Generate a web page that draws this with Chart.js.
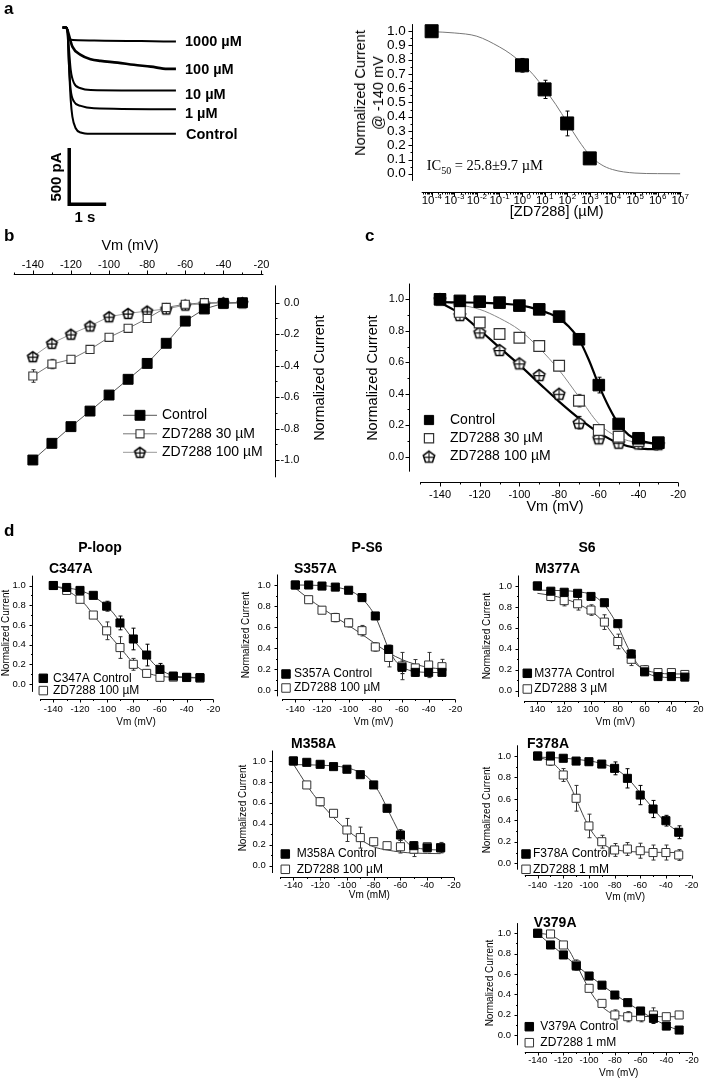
<!DOCTYPE html>
<html>
<head>
<meta charset="utf-8">
<script src="https://cdn.jsdelivr.net/npm/chart.js@4.4.1/dist/chart.umd.min.js"></script>
<style>
  html, body { margin: 0; padding: 0; background: #fff; }
  #fig { position: relative; width: 708px; height: 1078px; overflow: hidden; font-family: 'Liberation Sans', Arial, sans-serif; color: #000; }
  #fig canvas { position: absolute; left: 0; top: 0; }
  .lbl { position: absolute; white-space: nowrap; line-height: 1.2; }
</style>
</head>
<body>
<div id="fig"></div>
<script>
// ---------- a: current traces (time in s, current in pA) ----------
const trace1000uM = [[-0.13, 20], [-0.03, 20], [0, 0], [0.05, -85], [0.3, -92], [1, -96], [2, -100], [2.94, -104]];
const trace100uM = [[-0.13, 20], [-0.03, 20], [0, 0], [0.135, -149], [0.36, -222], [0.63, -261], [0.9, -276], [1.36, -291], [1.8, -311], [2.26, -327], [2.71, -347], [2.94, -347]];
const trace10uM = [[-0.13, 20], [-0.03, 20], [0, 0], [0.045, -178], [0.09, -356], [0.18, -474], [0.36, -519], [0.63, -534], [2.94, -540]];
const trace1uM = [[-0.13, 20], [-0.03, 20], [0, 0], [0.045, -326], [0.09, -534], [0.18, -638], [0.36, -676], [0.72, -697], [2.94, -706]];
const traceControl = [[-0.13, 20], [-0.03, 20], [0, 0], [0.045, -326], [0.09, -623], [0.135, -771], [0.225, -875], [0.36, -913], [0.63, -925], [2.94, -925]];
const scaleBar = [[0.05, -1050], [0.05, -1550], [1.05, -1550]];

// ---------- a: dose response ----------
const doseConc = [0.0001, 1, 10, 100, 1000];
const doseCurrent = [1.0, 0.761, 0.592, 0.353, 0.108];
const doseError = [0, 0.048, 0.064, 0.087, 0.012];
const doseFit = [[1e-4, 0.997], [1e-3, 0.988], [1e-2, 0.965], [1e-1, 0.89], [0.316, 0.84], [1, 0.775], [3.16, 0.695], [10, 0.595], [31.6, 0.485], [100, 0.36], [316, 0.235], [1000, 0.13], [3160, 0.065], [1e4, 0.03], [1e5, 0.005], [1e6, 0.001], [1e7, 0]];
const doseDecades = [-4, -3, -2, -1, 0, 1, 2, 3, 4, 5, 6, 7];
const doseYTicks = [0.0, 0.1, 0.2, 0.3, 0.4, 0.5, 0.6, 0.7, 0.8, 0.9, 1.0];
const doseYMinor = [0.05, 0.15, 0.25, 0.35, 0.45, 0.55, 0.65, 0.75, 0.85, 0.95];

// ---------- shared voltage steps / ticks ----------
const vmSteps = [-140, -130, -120, -110, -100, -90, -80, -70, -60, -50, -40, -30];
const vmTicks = [-140, -120, -100, -80, -60, -40, -20];
const vmMinor = [-150, -130, -110, -90, -70, -50, -30];
const unitTicks = [0.0, 0.2, 0.4, 0.6, 0.8, 1.0];
const unitMinor = [0.1, 0.3, 0.5, 0.7, 0.9];

// ---------- b: I-V ----------
const bControl = [-1.0, -0.894, -0.788, -0.689, -0.587, -0.487, -0.386, -0.258, -0.117, -0.04, -0.004, 0];
const bZd30 = [-0.466, -0.39, -0.36, -0.297, -0.22, -0.163, -0.10, -0.03, -0.01, 0, 0, 0];
const bZd30Err = [0.04, 0.03, 0.02, 0, 0, 0, 0, 0, 0, 0, 0, 0];
const bZd100 = [-0.343, -0.258, -0.2, -0.148, -0.089, -0.068, -0.053, -0.04, -0.015, -0.008, 0, 0];
const bYTicks = [-1.0, -0.8, -0.6, -0.4, -0.2, 0.0];
const bYMinor = [-0.9, -0.7, -0.5, -0.3, -0.1];

// ---------- c: activation ----------
const cControl = [1.0, 0.99, 0.985, 0.979, 0.96, 0.936, 0.89, 0.746, 0.455, 0.208, 0.117, 0.089];
const cControlErr = [0, 0, 0, 0, 0, 0, 0.01, 0.02, 0.05, 0.01, 0, 0];
const cZd30 = [1.0, 0.92, 0.852, 0.78, 0.756, 0.703, 0.578, 0.356, 0.17, 0.127, 0.10, 0.089];
const cZd30Err = [0, 0, 0, 0, 0, 0, 0.03, 0.04, 0.02, 0, 0, 0];
const cZd100 = [1.0, 0.90, 0.79, 0.678, 0.593, 0.519, 0.40, 0.216, 0.117, 0.089, 0.085, 0.08];
const cZd100Err = [0, 0.02, 0.02, 0.01, 0.01, 0.02, 0.02, 0.04, 0.02, 0.01, 0, 0];
const cFitControl = [[-140, 0.982], [-120, 0.978], [-100, 0.962], [-95, 0.95], [-90, 0.932], [-85, 0.91], [-80, 0.878], [-75, 0.825], [-70, 0.746], [-65, 0.614], [-60, 0.455], [-55, 0.318], [-50, 0.208], [-45, 0.138], [-40, 0.106], [-35, 0.089], [-30, 0.08]];
const cFitZd30 = [[-140, 0.985], [-130, 0.964], [-120, 0.936], [-110, 0.88], [-100, 0.805], [-90, 0.69], [-80, 0.55], [-70, 0.38], [-60, 0.21], [-50, 0.123], [-40, 0.089], [-30, 0.08]];
const cFitZd100 = [[-140, 0.98], [-130, 0.91], [-120, 0.805], [-110, 0.693], [-100, 0.583], [-90, 0.466], [-80, 0.35], [-70, 0.244], [-60, 0.153], [-50, 0.085], [-40, 0.053], [-30, 0.047]];

// ---------- d: mutants ----------
const c347aControl = [1.0, 0.98, 0.95, 0.9, 0.79, 0.62, 0.457, 0.294, 0.149, 0.081, 0.068, 0.065];
const c347aControlErr = [0, 0, 0, 0.02, 0.05, 0.07, 0.11, 0.11, 0.06, 0.02, 0.01, 0.01];
const c347aZd = [1.0, 0.95, 0.86, 0.70, 0.54, 0.37, 0.20, 0.108, 0.068, 0.07, 0.066, 0.06];
const c347aZdErr = [0, 0.02, 0.03, 0.03, 0.09, 0.11, 0.06, 0.02, 0.02, 0.01, 0.01, 0.01];
const c347aFitControl = [[-140, 0.99], [-130, 0.975], [-120, 0.95], [-110, 0.89], [-100, 0.79], [-95, 0.72], [-90, 0.63], [-85, 0.54], [-80, 0.45], [-75, 0.37], [-70, 0.29], [-65, 0.21], [-60, 0.15], [-55, 0.11], [-50, 0.085], [-40, 0.07], [-30, 0.065]];
const c347aFitZd = [[-140, 1.0], [-130, 0.95], [-120, 0.86], [-115, 0.79], [-110, 0.70], [-105, 0.62], [-100, 0.53], [-95, 0.45], [-90, 0.37], [-85, 0.29], [-80, 0.21], [-75, 0.155], [-70, 0.115], [-60, 0.08], [-50, 0.068], [-30, 0.062]];

const s357aControl = [1.0, 1.0, 0.99, 0.98, 0.95, 0.88, 0.705, 0.387, 0.216, 0.168, 0.168, 0.168];
const s357aControlErr = [0, 0, 0, 0, 0, 0, 0, 0.04, 0.06, 0.03, 0.03, 0.02];
const s357aZd = [1.0, 0.86, 0.76, 0.69, 0.64, 0.565, 0.41, 0.31, 0.228, 0.21, 0.238, 0.222];
const s357aZdErr = [0, 0.03, 0.03, 0.04, 0.04, 0.05, 0.04, 0.09, 0.13, 0.08, 0.12, 0.07];
const s357aFitControl = [[-140, 1.0], [-120, 0.995], [-110, 0.98], [-100, 0.95], [-95, 0.92], [-90, 0.87], [-85, 0.8], [-80, 0.7], [-75, 0.55], [-70, 0.39], [-65, 0.28], [-60, 0.22], [-55, 0.19], [-50, 0.175], [-40, 0.168], [-30, 0.165]];
const s357aFitZd = [[-140, 0.97], [-130, 0.87], [-120, 0.78], [-110, 0.695], [-100, 0.615], [-90, 0.53], [-80, 0.44], [-70, 0.355], [-60, 0.29], [-50, 0.245], [-40, 0.215], [-30, 0.2]];

const m377aSteps = [140, 130, 120, 110, 100, 90, 80, 70, 60, 50, 40, 30];
const m377aTicks = [140, 120, 100, 80, 60, 40, 20];
const m377aMinor = [150, 130, 110, 90, 70, 50, 30];
const m377aControl = [1.0, 0.95, 0.94, 0.93, 0.9, 0.84, 0.64, 0.35, 0.18, 0.135, 0.135, 0.13];
const m377aControlErr = [0, 0.02, 0.02, 0.02, 0.03, 0.03, 0.03, 0.04, 0.03, 0.02, 0.02, 0.02];
const m377aZd = [1.0, 0.9, 0.86, 0.83, 0.77, 0.655, 0.47, 0.30, 0.20, 0.173, 0.173, 0.155];
const m377aZdErr = [0, 0.04, 0.05, 0.06, 0.05, 0.07, 0.07, 0.06, 0.04, 0.02, 0.02, 0.02];
const m377aFitControl = [[140, 0.96], [120, 0.955], [110, 0.945], [100, 0.92], [95, 0.88], [90, 0.82], [85, 0.73], [80, 0.62], [75, 0.48], [70, 0.35], [65, 0.25], [60, 0.185], [55, 0.15], [50, 0.135], [40, 0.125], [30, 0.125]];
const m377aFitZd = [[140, 0.93], [130, 0.91], [120, 0.88], [110, 0.83], [100, 0.76], [95, 0.71], [90, 0.645], [85, 0.56], [80, 0.47], [75, 0.38], [70, 0.3], [65, 0.24], [60, 0.2], [50, 0.17], [40, 0.16], [30, 0.16]];

const m358aControl = [1.0, 0.987, 0.968, 0.946, 0.921, 0.869, 0.771, 0.548, 0.293, 0.191, 0.17, 0.17];
const m358aControlErr = [0, 0, 0, 0, 0, 0, 0.01, 0.03, 0.05, 0.03, 0.02, 0.02];
const m358aZd = [1.0, 0.771, 0.611, 0.50, 0.341, 0.268, 0.229, 0.191, 0.181, 0.157, 0.181, 0.172];
const m358aZdErr = [0, 0.01, 0.04, 0.03, 0.11, 0.1, 0.02, 0.02, 0.06, 0.07, 0.03, 0.05];
const m358aFitControl = [[-140, 0.965], [-120, 0.96], [-100, 0.935], [-90, 0.89], [-85, 0.85], [-80, 0.78], [-75, 0.68], [-70, 0.55], [-65, 0.42], [-60, 0.30], [-55, 0.22], [-50, 0.18], [-40, 0.155], [-30, 0.15]];
const m358aFitZd = [[-140, 0.97], [-135, 0.87], [-130, 0.77], [-125, 0.68], [-120, 0.6], [-115, 0.53], [-110, 0.46], [-100, 0.34], [-90, 0.25], [-80, 0.18], [-70, 0.15], [-60, 0.13], [-50, 0.12], [-30, 0.115]];

const f378aControl = [1.0, 1.0, 0.979, 0.953, 0.947, 0.925, 0.885, 0.792, 0.636, 0.506, 0.397, 0.289];
const f378aControlErr = [0, 0.01, 0.01, 0.02, 0.03, 0.03, 0.06, 0.09, 0.09, 0.08, 0.05, 0.06];
const f378aZd = [1.0, 0.953, 0.823, 0.606, 0.348, 0.201, 0.124, 0.133, 0.117, 0.10, 0.10, 0.077];
const f378aZdErr = [0, 0.04, 0.06, 0.12, 0.11, 0.06, 0.06, 0.06, 0.07, 0.07, 0.07, 0.05];
const f378aFitControl = [[-140, 0.99], [-120, 0.98], [-100, 0.955], [-90, 0.93], [-80, 0.885], [-70, 0.795], [-60, 0.655], [-50, 0.51], [-40, 0.38], [-30, 0.29]];
const f378aFitZd = [[-140, 0.99], [-130, 0.95], [-125, 0.9], [-120, 0.83], [-115, 0.73], [-110, 0.6], [-105, 0.46], [-100, 0.34], [-95, 0.25], [-90, 0.19], [-85, 0.15], [-80, 0.13], [-70, 0.11], [-30, 0.1]];

const v379aControl = [1.0, 0.885, 0.787, 0.678, 0.58, 0.49, 0.393, 0.318, 0.236, 0.164, 0.088, 0.049];
const v379aControlErr = [0, 0, 0, 0, 0, 0, 0, 0, 0.03, 0.05, 0.03, 0];
const v379aZd = [1.0, 0.993, 0.885, 0.688, 0.459, 0.311, 0.197, 0.18, 0.18, 0.197, 0.18, 0.197];
const v379aZdErr = [0, 0, 0.02, 0.05, 0.01, 0.02, 0.05, 0.05, 0.05, 0.07, 0.03, 0];
const v379aFitControl = [[-140, 1.0], [-130, 0.89], [-120, 0.79], [-110, 0.685], [-100, 0.585], [-90, 0.49], [-80, 0.4], [-70, 0.315], [-60, 0.235], [-50, 0.16], [-40, 0.095], [-30, 0.045]];
const v379aFitZd = [[-140, 1.0], [-130, 0.98], [-120, 0.9], [-115, 0.82], [-110, 0.7], [-105, 0.57], [-100, 0.45], [-95, 0.35], [-90, 0.28], [-85, 0.23], [-80, 0.2], [-70, 0.185], [-30, 0.18]];

// ================= helpers =================
const W = 708, H = 1078;
const FONT = "'Liberation Sans', Arial, sans-serif";
const fig = document.getElementById('fig');
Chart.defaults.font.family = FONT;
Chart.defaults.color = '#000';

// open pentagon with a cross, used as a point style image
function pentagon(size, color) {
  const c = document.createElement('canvas');
  c.width = c.height = size + 4;
  const g = c.getContext('2d');
  const cx = c.width / 2, cy = c.height / 2 + 0.6, r = size / 2;
  g.beginPath();
  for (let i = 0; i < 5; i++) {
    const a = -Math.PI / 2 + i * 2 * Math.PI / 5;
    g.lineTo(cx + r * Math.cos(a), cy + r * Math.sin(a));
  }
  g.closePath();
  g.fillStyle = '#fff'; g.fill();
  g.strokeStyle = color; g.lineWidth = 1.6; g.stroke();
  g.beginPath();
  g.moveTo(cx, cy - r); g.lineTo(cx, cy + r * 0.8);
  g.moveTo(cx - r * 0.85, cy); g.lineTo(cx + r * 0.85, cy);
  g.lineWidth = 1.1; g.stroke();
  return c;
}

function scaleCfg({ type = 'linear', position, min, max, major, minor = [], fmt, size, pad, reverse = false, box, align = 'near', hide = false }) {
  const all = [...major, ...minor].sort((a, b) => a - b);
  const cfg = {
    type, position, min, max, reverse,
    grid: { display: false, drawTicks: false },
    border: { display: false },
    afterBuildTicks: s => { s.ticks = all.map(v => ({ value: v })); },
    ticks: {
      autoSkip: false, maxRotation: 0, minRotation: 0, padding: pad, crossAlign: align,
      font: { size }, color: hide ? 'rgba(0,0,0,0)' : '#000',
      callback: v => major.includes(v) ? fmt(v) : ''
    }
  };
  Object.defineProperty(cfg, 'boxSize', { value: box, enumerable: false });
  return cfg;
}

// Origin style axes: detached lines with major / minor ticks taken from the scales
function axesPlugin(axes, len = 4, minorLen = 2) {
  return {
    id: 'originAxes',
    afterDraw(chart) {
      const { ctx, chartArea: a } = chart;
      ctx.save();
      ctx.strokeStyle = '#000';
      ctx.lineWidth = 1;
      ctx.beginPath();
      for (const id in axes) {
        const s = chart.scales[id], gap = axes[id];
        if (s.isHorizontal()) {
          const top = s.position === 'top';
          const y = Math.round(top ? a.top - gap : a.bottom + gap) + 0.5, dir = top ? -1 : 1;
          ctx.moveTo(a.left, y); ctx.lineTo(a.right, y);
          s.ticks.forEach(t => {
            const x = Math.round(s.getPixelForValue(t.value)) + 0.5;
            ctx.moveTo(x, y); ctx.lineTo(x, y + dir * (t.label ? len : minorLen));
          });
        } else {
          const right = s.position === 'right';
          const x = Math.round(right ? a.right + gap : a.left - gap) + 0.5, dir = right ? 1 : -1;
          ctx.moveTo(x, a.top); ctx.lineTo(x, a.bottom);
          s.ticks.forEach(t => {
            const y = Math.round(s.getPixelForValue(t.value)) + 0.5;
            ctx.moveTo(x, y); ctx.lineTo(x + dir * (t.label ? len : minorLen), y);
          });
        }
      }
      ctx.stroke();
      ctx.restore();
    }
  };
}

// "10" with a raised exponent under every labelled tick of a log scale
function powerLabels(id, baseline, size, supSize) {
  return {
    id: 'powerLabels',
    afterDraw(chart) {
      const s = chart.scales[id], ctx = chart.ctx;
      ctx.save();
      ctx.fillStyle = '#000';
      ctx.textBaseline = 'alphabetic';
      s.ticks.forEach(t => {
        if (!t.label) return;
        const e = String(Math.round(Math.log10(t.value)));
        ctx.font = `${size}px ${FONT}`;
        const w1 = ctx.measureText('10').width;
        ctx.font = `${supSize}px ${FONT}`;
        const w2 = ctx.measureText(e).width;
        const x0 = s.getPixelForValue(t.value) - (w1 + w2) / 2;
        ctx.font = `${size}px ${FONT}`;
        ctx.fillText('10', x0, baseline);
        ctx.font = `${supSize}px ${FONT}`;
        ctx.fillText(e, x0 + w1 + 0.3, baseline - size * 0.42);
      });
      ctx.restore();
    }
  };
}

// error bars from dataset.errors, drawn under the markers
const errorBars = {
  id: 'errorBars',
  beforeDatasetsDraw(chart) {
    const ctx = chart.ctx, xs = chart.scales.x, ys = chart.scales.y;
    chart.data.datasets.forEach(ds => {
      if (!ds.errors) return;
      ctx.save();
      ctx.strokeStyle = ds.errorColor || '#000';
      ctx.lineWidth = 1;
      ctx.beginPath();
      ds.data.forEach((p, i) => {
        const e = ds.errors[i];
        if (!e) return;
        const x = Math.round(xs.getPixelForValue(p.x)) + 0.5;
        const y1 = ys.getPixelForValue(p.y + e), y2 = ys.getPixelForValue(p.y - e);
        ctx.moveTo(x, y1); ctx.lineTo(x, y2);
        ctx.moveTo(x - 2, y1); ctx.lineTo(x + 2, y1);
        ctx.moveTo(x - 2, y2); ctx.lineTo(x + 2, y2);
      });
      ctx.stroke();
      ctx.restore();
    });
  }
};

function legendPlugin(o) {
  return {
    id: 'inlineLegend',
    afterDraw(chart) {
      const ctx = chart.ctx;
      ctx.save();
      ctx.font = `${o.size}px ${FONT}`;
      ctx.textBaseline = 'middle';
      o.items.forEach((di, i) => {
        const ds = chart.data.datasets[di];
        const y = o.y + i * o.dy;
        if (o.line) {
          ctx.strokeStyle = ds.borderColor; ctx.lineWidth = 1;
          ctx.beginPath(); ctx.moveTo(o.x - o.line, y); ctx.lineTo(o.x + o.line, y); ctx.stroke();
        }
        ctx.fillStyle = ds.pointBackgroundColor;
        ctx.strokeStyle = ds.pointBorderColor;
        ctx.lineWidth = ds.pointBorderWidth;
        Chart.helpers.drawPoint(ctx, { pointStyle: ds.pointStyle, radius: o.r || ds.pointRadius, rotation: 0, borderWidth: ds.pointBorderWidth }, o.x, y);
        ctx.fillStyle = '#000';
        ctx.fillText(ds.label, o.tx, y);
      });
      ctx.restore();
    }
  };
}

// every chart covers the whole page; the plot area is set in page pixels and
// each visible scale gets a fixed-size box cut out of the layout padding
function makeChart(area, scales, datasets, plugins = []) {
  const cv = document.createElement('canvas');
  cv.width = W; cv.height = H;
  fig.appendChild(cv);
  const [L, T, R, B] = area;
  const pad = { left: L, top: T, right: W - R, bottom: H - B };
  for (const id in scales) {
    const s = scales[id];
    if (s.display === false) continue;
    const side = s.position;
    const size = Math.floor(Math.min(pad[side], s.boxSize || (side === 'left' || side === 'right' ? 60 : 40)));
    pad[side] -= size;
    s.afterFit = sc => { if (sc.isHorizontal()) sc.height = size; else sc.width = size; };
  }
  return new Chart(cv, {
    type: 'scatter',
    data: { datasets },
    options: {
      responsive: false, animation: false, devicePixelRatio: 1, events: [],
      layout: { padding: pad },
      plugins: { legend: { display: false }, tooltip: { enabled: false } },
      scales
    },
    plugins: [errorBars, ...plugins]
  });
}

const FILLED = r => ({ shape: 'rect', r, fill: '#000', stroke: '#000', bw: 1 });
const OPEN = (r, c = '#333', bw = 1) => ({ shape: 'rect', r, fill: '#fff', stroke: c, bw });
const PENTA = (size, c = '#000') => ({ shape: pentagon(size, c), r: size / 2, fill: '#fff', stroke: c, bw: 1 });

function markerSet(label, xs, ys, st, errors, lineColor) {
  return {
    label, data: xs.map((x, i) => ({ x, y: ys[i] })), errors, errorColor: st.stroke,
    showLine: !!lineColor, clip: false,
    borderColor: lineColor || st.stroke, borderWidth: 1,
    pointStyle: st.shape, pointRadius: st.r,
    pointBackgroundColor: st.fill, pointBorderColor: st.stroke, pointBorderWidth: st.bw,
    backgroundColor: st.fill
  };
}
function curve(arr, color, width) {
  return {
    data: arr.map(([x, y]) => ({ x, y })), showLine: true, clip: false,
    pointRadius: 0, borderColor: color, borderWidth: width,
    cubicInterpolationMode: 'monotone'
  };
}
function trace(arr, width = 2) {
  return { data: arr.map(([x, y]) => ({ x, y })), showLine: true, clip: false, pointRadius: 0, borderColor: '#000', borderWidth: width, cubicInterpolationMode: 'monotone' };
}

function txt(html, x, y, o = {}) {
  const d = document.createElement('div');
  d.className = 'lbl';
  d.innerHTML = html;
  d.style.left = x + 'px';
  d.style.top = y + 'px';
  d.style.fontSize = (o.size || 12) + 'px';
  if (o.bold) d.style.fontWeight = 'bold';
  if (o.serif) d.style.fontFamily = "'Liberation Serif', 'Times New Roman', serif";
  if (o.lh) d.style.lineHeight = o.lh;
  d.style.textAlign = 'center';
  d.style.transform = `translate(${o.align === 'left' ? '0' : '-50%'}, -50%)` + (o.rot ? ` rotate(${o.rot}deg)` : '');
  fig.appendChild(d);
}

// ================= panel a (traces) =================
makeChart([60, 22, 180, 212], {
  x: { type: 'linear', display: false, min: -0.2, max: 3.05 },
  y: { type: 'linear', display: false, min: -1620, max: 70 }
}, [
  trace(trace1000uM), trace(trace100uM, 2.6), trace(trace10uM), trace(trace1uM), trace(traceControl),
  { data: scaleBar.map(([x, y]) => ({ x, y })), showLine: true, clip: false, pointRadius: 0, borderColor: '#000', borderWidth: 3.5, borderJoinStyle: 'miter' }
]);

// ================= panel a (dose response) =================
const doseMajor = doseDecades.map(e => 10 ** e);
const doseMinor = [];
for (let e = -5; e <= 7; e++) for (let k = 2; k <= 9; k++) {
  const v = k * 10 ** e;
  if (v > 10 ** -4.44 && v < 10 ** 7.07) doseMinor.push(v);
}
makeChart([421.7, 1.1, 681.7, 180.9], {
  x: scaleCfg({ type: 'logarithmic', position: 'bottom', min: 10 ** -4.44, max: 10 ** 7.07, major: doseMajor, minor: doseMinor, fmt: v => '10^' + Math.round(Math.log10(v)), size: 11.5, pad: 12, hide: true }),
  y: scaleCfg({ position: 'left', min: -0.05, max: 1.05, major: doseYTicks, minor: doseYMinor, fmt: v => v.toFixed(1), size: 13.5, pad: 16 })
}, [
  markerSet('ZD7288', doseConc, doseCurrent, FILLED(9.2), doseError),
  curve(doseFit, '#777', 1)
], [axesPlugin({ x: 10.8, y: 10 }, 4, 2), powerLabels('x', 204, 11.5, 8)]);

// ================= panel b =================
const pentaB = PENTA(11);
makeChart([5.3, 285.4, 263.4, 477.3], {
  x: scaleCfg({ position: 'top', min: -150, max: -19, major: vmTicks, minor: vmMinor, fmt: v => String(v), size: 11, pad: 13.8 }),
  y: scaleCfg({ position: 'right', min: -1.11, max: 0.11, major: bYTicks, minor: bYMinor, fmt: v => v.toFixed(1), size: 11, pad: 13, box: 36, align: 'far' })
}, [
  markerSet('Control', vmSteps, bControl, FILLED(7), null, '#555'),
  markerSet('ZD7288 30 \u00b5M', vmSteps, bZd30, OPEN(5.7, '#333', 1.1), bZd30Err, '#777'),
  markerSet('ZD7288 100 \u00b5M', vmSteps, bZd100, pentaB, null, '#999')
], [axesPlugin({ x: 11.4, y: 11.6 }, 4, 2), legendPlugin({ items: [0, 1, 2], x: 140, y: 415.3, dy: 18.5, tx: 162, line: 17, size: 14 })]);

// ================= panel c =================
const pentaC = PENTA(12, '#111');
makeChart([420.15, 283.56, 678.2, 471.65], {
  x: scaleCfg({ position: 'bottom', min: -150, max: -20, major: vmTicks, minor: vmMinor, fmt: v => String(v), size: 11, pad: 16.5 }),
  y: scaleCfg({ position: 'left', min: -0.095, max: 1.1, major: unitTicks, minor: unitMinor, fmt: v => v.toFixed(1), size: 11, pad: 16 })
}, [
  markerSet('Control', vmSteps, cControl, FILLED(8.2), cControlErr),
  markerSet('ZD7288 30 \u00b5M', vmSteps, cZd30, OPEN(7.6, '#333', 1.2), cZd30Err),
  markerSet('ZD7288 100 \u00b5M', vmSteps, cZd100, pentaC, cZd100Err),
  curve(cFitControl, '#000', 2.2),
  curve(cFitZd30, '#888', 1),
  curve(cFitZd100, '#000', 2.2)
], [axesPlugin({ x: 10, y: 11.15 }, 4, 2), legendPlugin({ items: [0, 1, 2], x: 429, y: 420, dy: 18.3, tx: 450, size: 14, r: 6.5 })]);

// ================= panel d =================
function dPanel(p) {
  const xs = p.steps || vmSteps;
  makeChart(p.area, {
    x: scaleCfg({ position: 'bottom', min: p.xmin ?? -150, max: p.xmax ?? -20, reverse: !!p.reverse, major: p.xMajor || vmTicks, minor: p.xMinor || vmMinor, fmt: v => String(v), size: 9.5, pad: p.xPad }),
    y: scaleCfg({ position: 'left', min: p.ymin, max: 1.1, major: unitTicks, minor: unitMinor, fmt: v => v.toFixed(1), size: 9.5, pad: p.yPad })
  }, [
    markerSet(p.name + ' Control', xs, p.ctrl, FILLED(5.7), p.ctrlErr),
    markerSet(p.drug, xs, p.zd, OPEN(5.7, '#333', 1), p.zdErr),
    curve(p.fitC, '#444', 1),
    curve(p.fitZ, '#444', 1)
  ], [axesPlugin({ x: p.xGap, y: p.yGap }, 3, 1.5), legendPlugin({ items: [0, 1], x: p.leg[0], y: p.leg[1], dy: p.leg[2], tx: p.leg[3], size: 12, r: 6 })]);
}

dPanel({ name: 'C347A', drug: 'ZD7288 100 \u00b5M', area: [40, 575.65, 213.3, 691.9], ymin: -0.08, xGap: 7.4, yGap: 8.3, xPad: 11.9, yPad: 14.3,
  ctrl: c347aControl, ctrlErr: c347aControlErr, zd: c347aZd, zdErr: c347aZdErr, fitC: c347aFitControl, fitZ: c347aFitZd, leg: [43.3, 678.3, 12.3, 53] });
dPanel({ name: 'S357A', drug: 'ZD7288 100 \u00b5M', area: [282, 574.5, 455.3, 696.3], ymin: -0.06, xGap: 3, yGap: 5.3, xPad: 7.5, yPad: 11.3,
  ctrl: s357aControl, ctrlErr: s357aControlErr, zd: s357aZd, zdErr: s357aZdErr, fitC: s357aFitControl, fitZ: s357aFitZd, leg: [286, 674, 14, 294] });
dPanel({ name: 'M377A', drug: 'ZD7288 3 \u00b5M', area: [524, 575.5, 698.2, 697], ymin: -0.06, xGap: 3.7, yGap: 6, xPad: 6.8, yPad: 12,
  steps: m377aSteps, xmin: 20, xmax: 150, reverse: true, xMajor: m377aTicks, xMinor: m377aMinor,
  ctrl: m377aControl, ctrlErr: m377aControlErr, zd: m377aZd, zdErr: m377aZdErr, fitC: m377aFitControl, fitZ: m377aFitZd, leg: [527.3, 673.3, 15.7, 534.3] });
dPanel({ name: 'M358A', drug: 'ZD7288 100 \u00b5M', area: [280, 750.5, 454, 873], ymin: -0.07, xGap: 4.3, yGap: 8.3, xPad: 6.3, yPad: 14.3,
  ctrl: m358aControl, ctrlErr: m358aControlErr, zd: m358aZd, zdErr: m358aZdErr, fitC: m358aFitControl, fitZ: m358aFitZd, leg: [285.3, 854, 15.3, 296.7] });
dPanel({ name: 'F378A', drug: 'ZD7288 1 mM', area: [524.8, 745.3, 698.7, 869.7], ymin: -0.06, xGap: 5.3, yGap: 7.8, xPad: 9.6, yPad: 13.8,
  ctrl: f378aControl, ctrlErr: f378aControlErr, zd: f378aZd, zdErr: f378aZdErr, fitC: f378aFitControl, fitZ: f378aFitZd, leg: [526, 854, 15.3, 533] });
dPanel({ name: 'V379A', drug: 'ZD7288 1 mM', area: [524.8, 923.1, 698.7, 1045.2], ymin: -0.1, xGap: 6.5, yGap: 7.8, xPad: 9.1, yPad: 13.8,
  ctrl: v379aControl, ctrlErr: v379aControlErr, zd: v379aZd, zdErr: v379aZdErr, fitC: v379aFitControl, fitZ: v379aFitZd, leg: [529.3, 1026.7, 16, 540.3] });

// ================= text =================
txt('a', 4, 9, { size: 17, bold: true, align: 'left' });
txt('1000 \u00b5M', 185, 42, { size: 14.5, bold: true, align: 'left' });
txt('100 \u00b5M', 185, 69.5, { size: 14.5, bold: true, align: 'left' });
txt('10 \u00b5M', 185, 94.5, { size: 14.5, bold: true, align: 'left' });
txt('1 \u00b5M', 185, 113.5, { size: 14.5, bold: true, align: 'left' });
txt('Control', 186, 135, { size: 14.5, bold: true, align: 'left' });
txt('500 pA', 56, 177, { size: 15, bold: true, rot: -90 });
txt('1 s', 85, 217, { size: 15, bold: true });

txt('Normalized Current<br>@ -140 mV', 369, 93, { size: 14.5, rot: -90, lh: '18px' });
txt('[ZD7288] (\u00b5M)', 556.7, 212, { size: 14.5 });
txt('IC<sub style="font-size:10px">50</sub> = 25.8\u00b19.7 \u00b5M', 426.7, 167, { size: 14.5, serif: true, align: 'left' });

txt('b', 4, 236, { size: 17, bold: true, align: 'left' });
txt('Vm (mV)', 130, 246, { size: 14.5 });
txt('Normalized Current', 320, 378, { size: 14.5, rot: -90 });

txt('c', 365, 236, { size: 17, bold: true, align: 'left' });
txt('Normalized Current', 373.3, 378, { size: 14.5, rot: -90 });
txt('Vm (mV)', 555, 507, { size: 14.5 });

txt('d', 4, 531, { size: 17, bold: true, align: 'left' });
txt('P-loop', 100, 547, { size: 14, bold: true });
txt('P-S6', 367, 547, { size: 14, bold: true });
txt('S6', 587, 547, { size: 14, bold: true });

const dTitles = [['C347A', 49, 568], ['S357A', 294, 568], ['M377A', 535, 568], ['M358A', 291, 743.3], ['F378A', 527, 743.3], ['V379A', 533.7, 921.7]];
dTitles.forEach(([t, x, y]) => txt(t, x, y, { size: 14, bold: true, align: 'left' }));
const dYTitles = [[5.5, 633], [246, 635], [487, 636], [242.7, 808.3], [487, 810], [489.5, 983.3]];
dYTitles.forEach(([x, y]) => txt('Normalized Current', x, y, { size: 10, rot: -90 }));
const dXTitles = [['Vm (mV)', 136, 722], ['Vm (mV)', 373.5, 722], ['Vm (mV)', 615.3, 722], ['Vm (mM)', 369.3, 895], ['Vm (mV)', 625.3, 897], ['Vm (mV)', 618.7, 1073.3]];
dXTitles.forEach(([t, x, y]) => txt(t, x, y, { size: 10 }));
</script>
</body>
</html>
